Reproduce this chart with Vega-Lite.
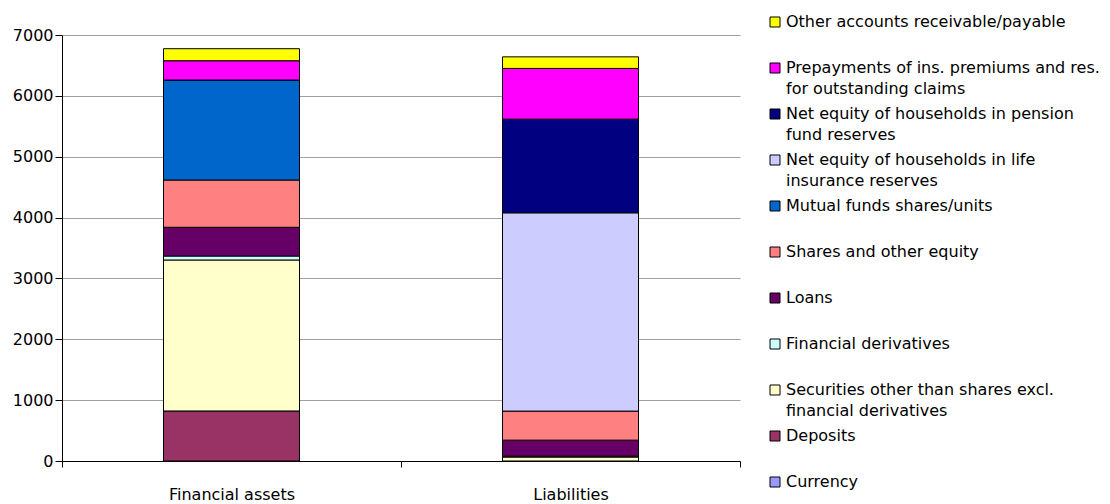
{
  "$schema": "https://vega.github.io/schema/vega-lite/v6.json",
  "autosize": {"type": "none"},
  "width": 678,
  "height": 426,
  "padding": {"left": 62, "top": 35, "right": 370, "bottom": 43},
  "background": "white",
  "config": {
    "font": "DejaVu Sans",
    "view": {"stroke": null},
    "axis": {"labelFont": "DejaVu Sans", "labelFontSize": 16, "labelColor": "black"}
  },
  "data": {
    "values": [
      {"category": "Financial assets", "item": "Deposits", "value": 822},
      {"category": "Financial assets", "item": "Securities other than shares excl. financial derivatives", "value": 2481},
      {"category": "Financial assets", "item": "Financial derivatives", "value": 65},
      {"category": "Financial assets", "item": "Loans", "value": 472},
      {"category": "Financial assets", "item": "Shares and other equity", "value": 777},
      {"category": "Financial assets", "item": "Mutual funds shares/units", "value": 1643},
      {"category": "Financial assets", "item": "Prepayments of ins. premiums and res. for outstanding claims", "value": 317},
      {"category": "Financial assets", "item": "Other accounts receivable/payable", "value": 198},
      {"category": "Liabilities", "item": "Securities other than shares excl. financial derivatives", "value": 65},
      {"category": "Liabilities", "item": "Financial derivatives", "value": 15},
      {"category": "Liabilities", "item": "Loans", "value": 263},
      {"category": "Liabilities", "item": "Shares and other equity", "value": 477},
      {"category": "Liabilities", "item": "Net equity of households in life insurance reserves", "value": 3258},
      {"category": "Liabilities", "item": "Net equity of households in pension fund reserves", "value": 1539},
      {"category": "Liabilities", "item": "Prepayments of ins. premiums and res. for outstanding claims", "value": 834},
      {"category": "Liabilities", "item": "Other accounts receivable/payable", "value": 190}
    ]
  },
  "transform": [
    {"calculate": "indexof(['Other accounts receivable/payable','Prepayments of ins. premiums and res. for outstanding claims','Net equity of households in pension fund reserves','Net equity of households in life insurance reserves','Mutual funds shares/units','Shares and other equity','Loans','Financial derivatives','Securities other than shares excl. financial derivatives','Deposits','Currency'], datum.item)", "as": "idx"}
  ],
  "mark": {"type": "bar", "width": 136, "stroke": "black", "strokeWidth": 1},
  "encoding": {
    "x": {
      "field": "category", "type": "nominal", "title": null,
      "scale": {"paddingInner": 0, "paddingOuter": 0},
      "axis": {"labelAngle": 0, "tickBand": "extent", "domainColor": "black", "tickColor": "black", "tickSize": 6, "labelPadding": 19, "grid": false}
    },
    "y": {
      "field": "value", "type": "quantitative", "aggregate": "sum", "stack": "zero", "title": null,
      "scale": {"domain": [0, 7000], "nice": false},
      "axis": {"values": [0, 1000, 2000, 3000, 4000, 5000, 6000, 7000], "domainColor": "black", "tickColor": "black", "tickSize": 7, "labelPadding": 2, "gridColor": "#a0a0a0", "gridWidth": 1.2, "format": "d"}
    },
    "order": {"field": "idx", "type": "quantitative", "sort": "descending"},
    "color": {
      "field": "item", "type": "nominal",
      "scale": {
        "domain": ["Other accounts receivable/payable", "Prepayments of ins. premiums and res. for outstanding claims", "Net equity of households in pension fund reserves", "Net equity of households in life insurance reserves", "Mutual funds shares/units", "Shares and other equity", "Loans", "Financial derivatives", "Securities other than shares excl. financial derivatives", "Deposits", "Currency"],
        "range": ["#FFFF00", "#FF00FF", "#000080", "#CCCCFF", "#0066CC", "#FF8080", "#660066", "#CCFFFF", "#FFFFCC", "#993366", "#9999FF"]
      },
      "legend": {
        "title": null,
        "orient": "none",
        "legendX": 705,
        "legendY": -21,
        "symbolType": "square",
        "symbolSize": 100,
        "symbolStrokeColor": "black",
        "symbolStrokeWidth": 1,
        "labelFont": "DejaVu Sans",
        "labelFontSize": 16,
        "labelColor": "black",
        "labelLimit": 400,
        "labelOffset": 3,
        "gridAlign": "all",
        "rowPadding": 9,
        "encode": {"labels": {"update": {"lineHeight": {"value": 21}}}},
        "labelExpr": "datum.label == 'Prepayments of ins. premiums and res. for outstanding claims' ? ['Prepayments of ins. premiums and res.', 'for outstanding claims'] : datum.label == 'Net equity of households in pension fund reserves' ? ['Net equity of households in pension', 'fund reserves'] : datum.label == 'Net equity of households in life insurance reserves' ? ['Net equity of households in life', 'insurance reserves'] : datum.label == 'Securities other than shares excl. financial derivatives' ? ['Securities other than shares excl.', 'financial derivatives'] : datum.label"
      }
    }
  }
}
